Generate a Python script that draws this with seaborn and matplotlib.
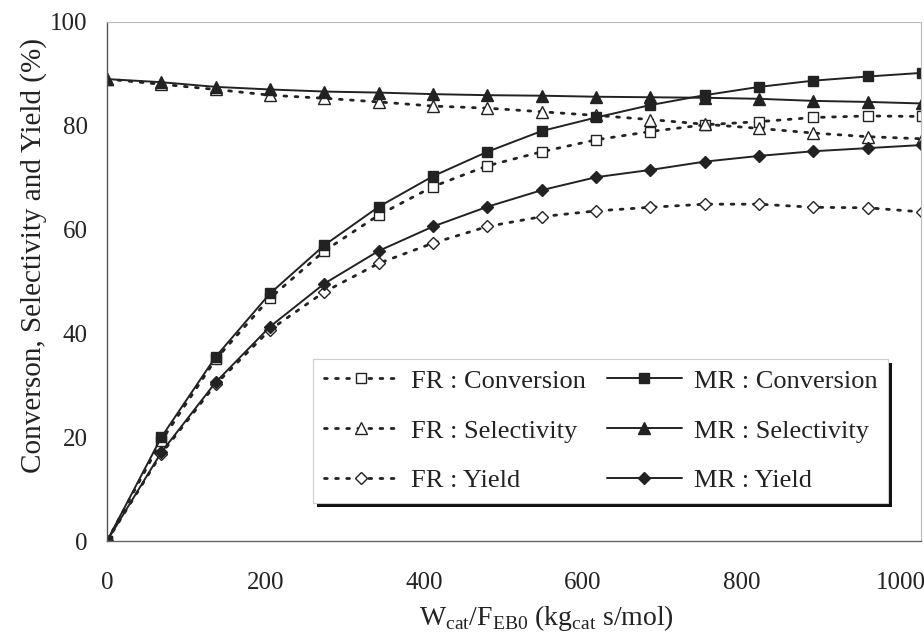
import matplotlib
matplotlib.use("Agg")
import matplotlib.pyplot as plt
from matplotlib.patches import Rectangle
import seaborn as sns

# residence parameter W/F (kg s/mol)
w_f = [0, 68.5, 137, 205.5, 274, 342.5, 411, 479.5, 548, 616.5,
       685, 753.5, 822, 890.5, 959, 1027.5]

fr_conversion = [0, 19.3, 35.0, 46.8, 55.9, 62.8, 68.3, 72.3, 75.0, 77.3,
                 78.9, 80.2, 80.8, 81.6, 81.9, 81.8]
fr_selectivity = [89.0, 88.0, 87.0, 85.9, 85.3, 84.6, 83.8, 83.4, 82.7, 82.0,
                  81.2, 80.3, 79.5, 78.6, 77.9, 77.5]
fr_yield = [0, 16.8, 30.2, 40.7, 48.0, 53.5, 57.4, 60.6, 62.5, 63.6,
            64.3, 64.9, 64.9, 64.3, 64.2, 63.4]

mr_conversion = [0, 20.0, 35.5, 47.7, 57.0, 64.4, 70.3, 75.0, 79.0, 81.6,
                 84.0, 85.9, 87.5, 88.7, 89.5, 90.2]
mr_selectivity = [89.0, 88.4, 87.5, 87.0, 86.6, 86.4, 86.1, 85.9, 85.8, 85.6,
                  85.5, 85.4, 85.2, 84.8, 84.6, 84.3]
mr_yield = [0, 17.1, 30.6, 41.3, 49.6, 55.9, 60.6, 64.4, 67.6, 70.1,
            71.5, 73.1, 74.2, 75.1, 75.7, 76.3]

x_ticks = [0, 200, 400, 600, 800, 1000]
y_ticks = [0, 20, 40, 60, 80, 100]

sns.set_style("white")
plt.rcParams["font.family"] = ["Liberation Serif", "DejaVu Serif"]
plt.rcParams["mathtext.fontset"] = "custom"
plt.rcParams["mathtext.rm"] = "Liberation Serif"

ink = "#222222"
fig = plt.figure(figsize=(9.24, 6.39), dpi=100)
ax = fig.add_axes([107 / 924, 1 - 541 / 639, 814 / 924, 519 / 639])

series = [
    ("FR : Conversion", fr_conversion, "s", 7.5, "white", "fr"),
    ("FR : Selectivity", fr_selectivity, "^", 8.5, "white", "fr"),
    ("FR : Yield", fr_yield, "D", 6.5, "white", "fr"),
    ("MR : Conversion", mr_conversion, "s", 7.5, ink, "mr"),
    ("MR : Selectivity", mr_selectivity, "^", 8.5, ink, "mr"),
    ("MR : Yield", mr_yield, "D", 6.5, ink, "mr"),
]

for label, vals, mk, ms, face, kind in series:
    if kind == "fr":
        ls, lw = (0, (1, 3)), 2.0
    else:
        ls, lw = "-", 1.4
    sns.lineplot(x=w_f, y=vals, ax=ax, color=ink, linestyle=ls, linewidth=lw,
                 marker=mk, markersize=ms, markerfacecolor=face,
                 markeredgecolor=ink, markeredgewidth=1.0,
                 dash_capstyle="round", label=label)

ax.set_xlim(0, 1026)
ax.set_ylim(0, 100)
ax.set_xticks(x_ticks)
ax.set_yticks(y_ticks)
ax.tick_params(axis="both", direction="out", length=4, width=0.8,
               color="#777777", labelsize=18, labelcolor=ink)
ax.tick_params(axis="x", pad=18)
ax.tick_params(axis="y", pad=10)

for side in ["top", "right"]:
    ax.spines[side].set_color("#bbbbbb")
    ax.spines[side].set_linewidth(0.8)
ax.spines["left"].set_color("#555555")
ax.spines["bottom"].set_color("#666666")
for side in ["left", "bottom"]:
    ax.spines[side].set_linewidth(1.0)

# axis titles were centred on the full (uncropped) axis
ax.set_xlabel(r"W$_{\mathrm{cat}}$/F$_{\mathrm{EB0}}$ (kg$_{\mathrm{cat}}$ s/mol)",
              fontsize=20, color=ink)
ax.set_ylabel("Converson, Selectivity and Yield (%)", fontsize=21, color=ink)
ax.xaxis.set_label_coords(0.54, -0.12)
ax.yaxis.set_label_coords(-0.074, 0.55)

handles, labels = ax.get_legend_handles_labels()
leg = ax.legend(handles, labels, ncol=2, loc="lower right",
                bbox_to_anchor=(0.9595, 0.0732), borderaxespad=0,
                fontsize=19, frameon=True, fancybox=False, framealpha=1,
                edgecolor="#cccccc", handlelength=2.85, handletextpad=0.45,
                columnspacing=0.8, labelspacing=1.0, borderpad=0.4)
leg.get_frame().set_linewidth(0.8)
for t in leg.get_texts():
    t.set_color(ink)

# thick offset shadow along the bottom and right of the legend box
fig.canvas.draw()
bb = leg.get_frame().get_window_extent().transformed(ax.transAxes.inverted())
shadow = Rectangle((bb.x0 + 4 / 814, bb.y0 - 4 / 519), bb.width, bb.height,
                   transform=ax.transAxes, facecolor="#111111", edgecolor="none",
                   zorder=leg.get_zorder() - 0.1, clip_on=False)
ax.add_patch(shadow)

fig.savefig("out.png", dpi=100)
